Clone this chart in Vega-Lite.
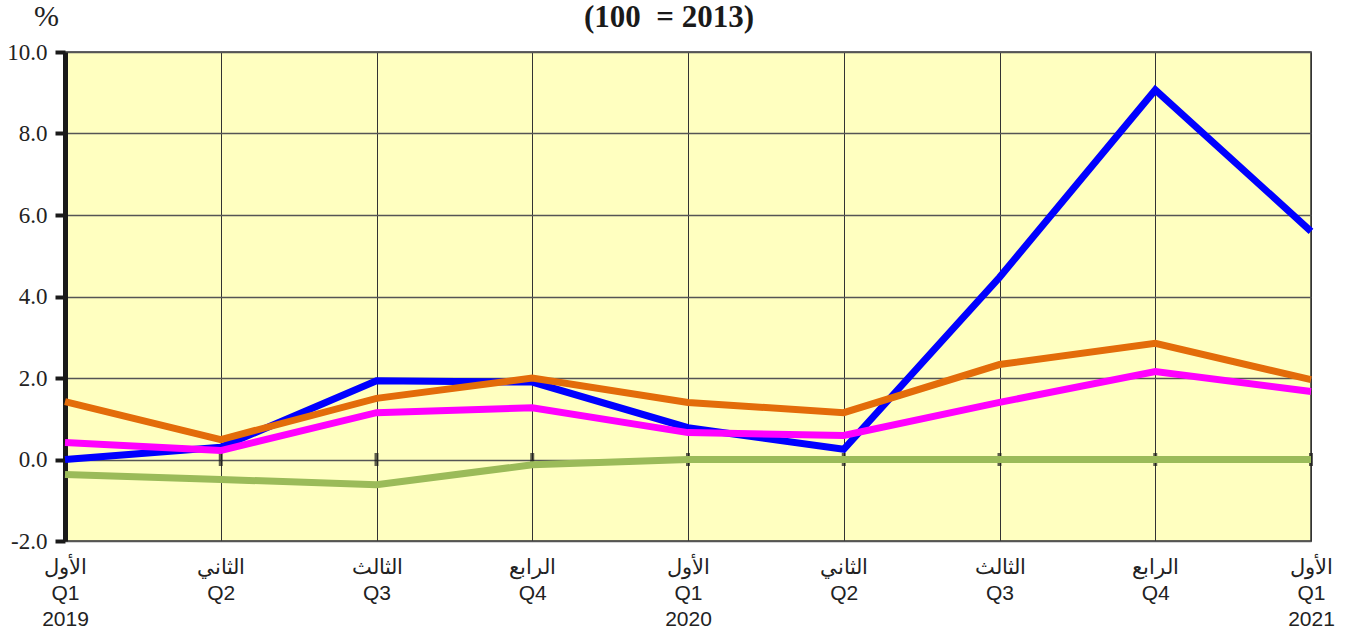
{
  "$schema": "https://vega.github.io/schema/vega-lite/v6.json",
  "width": 1246,
  "height": 489,
  "autosize": {"type": "none"},
  "padding": {"left": 65, "top": 52, "right": 44, "bottom": 100},
  "background": "white",
  "title": {
    "text": "(100\u00a0\u00a0= 2013)",
    "font": "Liberation Serif",
    "fontSize": 31,
    "fontWeight": "bold",
    "color": "#1a1a1a",
    "anchor": "middle",
    "baseline": "alphabetic",
    "offset": -57,
    "dx": -19
  },
  "datasets": {
    "series": [
      {"period": "2019 Q1", "series": "s1", "value": 0.0},
      {"period": "2019 Q2", "series": "s1", "value": 0.3},
      {"period": "2019 Q3", "series": "s1", "value": 1.93},
      {"period": "2019 Q4", "series": "s1", "value": 1.9},
      {"period": "2020 Q1", "series": "s1", "value": 0.78},
      {"period": "2020 Q2", "series": "s1", "value": 0.25},
      {"period": "2020 Q3", "series": "s1", "value": 4.47},
      {"period": "2020 Q4", "series": "s1", "value": 9.07},
      {"period": "2021 Q1", "series": "s1", "value": 5.6},
      {"period": "2019 Q1", "series": "s2", "value": 1.42},
      {"period": "2019 Q2", "series": "s2", "value": 0.49},
      {"period": "2019 Q3", "series": "s2", "value": 1.5},
      {"period": "2019 Q4", "series": "s2", "value": 2.0},
      {"period": "2020 Q1", "series": "s2", "value": 1.4},
      {"period": "2020 Q2", "series": "s2", "value": 1.15},
      {"period": "2020 Q3", "series": "s2", "value": 2.33},
      {"period": "2020 Q4", "series": "s2", "value": 2.85},
      {"period": "2021 Q1", "series": "s2", "value": 1.96},
      {"period": "2019 Q1", "series": "s3", "value": 0.42},
      {"period": "2019 Q2", "series": "s3", "value": 0.22},
      {"period": "2019 Q3", "series": "s3", "value": 1.15},
      {"period": "2019 Q4", "series": "s3", "value": 1.27},
      {"period": "2020 Q1", "series": "s3", "value": 0.66},
      {"period": "2020 Q2", "series": "s3", "value": 0.59},
      {"period": "2020 Q3", "series": "s3", "value": 1.4},
      {"period": "2020 Q4", "series": "s3", "value": 2.16},
      {"period": "2021 Q1", "series": "s3", "value": 1.67},
      {"period": "2019 Q1", "series": "s4", "value": -0.37},
      {"period": "2019 Q2", "series": "s4", "value": -0.49},
      {"period": "2019 Q3", "series": "s4", "value": -0.62},
      {"period": "2019 Q4", "series": "s4", "value": -0.13},
      {"period": "2020 Q1", "series": "s4", "value": 0.0},
      {"period": "2020 Q2", "series": "s4", "value": 0.0},
      {"period": "2020 Q3", "series": "s4", "value": 0.0},
      {"period": "2020 Q4", "series": "s4", "value": 0.0},
      {"period": "2021 Q1", "series": "s4", "value": 0.0}
    ],
    "quarters": [
      {"period": "2019 Q1"}, {"period": "2019 Q2"}, {"period": "2019 Q3"},
      {"period": "2019 Q4"}, {"period": "2020 Q1"}, {"period": "2020 Q2"},
      {"period": "2020 Q3"}, {"period": "2020 Q4"}, {"period": "2021 Q1"}
    ]
  },
  "encoding": {
    "x": {
      "field": "period",
      "type": "ordinal",
      "sort": null,
      "scale": {"type": "point", "padding": 0},
      "axis": {
        "title": null,
        "domain": false,
        "ticks": false,
        "grid": true,
        "gridColor": "#333333",
        "gridWidth": 1,
        "labelAngle": 0,
        "labelAlign": "center",
        "labelBaseline": "top",
        "labelPadding": 15,
        "labelFont": "Liberation Sans",
        "labelFontSize": 21,
        "labelLineHeight": 26,
        "labelColor": "#222222",
        "labelOverlap": false,
        "labelBound": false,
        "labelFlush": false,
        "labelExpr": "[ (indexof(datum.label,'Q1')>=0 ? 'الأول' : indexof(datum.label,'Q2')>=0 ? 'الثاني' : indexof(datum.label,'Q3')>=0 ? 'الثالث' : 'الرابع'), slice(datum.label,5), (indexof(datum.label,'Q1')>=0 ? slice(datum.label,0,4) : '') ]"
      }
    }
  },
  "layer": [
    {
      "mark": {"type": "rule", "color": "#1a1a1a", "strokeWidth": 4},
      "encoding": {"x": null, "y": {"datum": 0, "type": "quantitative"}}
    },
    {
      "data": {"name": "quarters"},
      "mark": {"type": "tick", "orient": "vertical", "color": "#1a1a1a", "size": 13, "thickness": 4},
      "encoding": {"y": {"datum": 0, "type": "quantitative"}}
    },
    {
      "data": {"name": "series"},
      "mark": {"type": "line", "strokeWidth": 7, "strokeJoin": "miter", "strokeCap": "butt"},
      "encoding": {
        "y": {
          "field": "value",
          "type": "quantitative",
          "scale": {"domain": [-2, 10], "nice": false, "zero": false},
          "axis": {
            "title": "%",
            "titleAngle": 0,
            "titleX": -19,
            "titleY": -27,
            "titleAlign": "center",
            "titleBaseline": "alphabetic",
            "titleFont": "Liberation Serif",
            "titleFontSize": 30,
            "titleFontWeight": "normal",
            "titleColor": "#222222",
            "values": [-2, 0, 2, 4, 6, 8, 10],
            "format": ".1f",
            "labelExpr": "replace(datum.label, '\u2212', '-')",
            "labelFont": "Liberation Serif",
            "labelFontSize": 23,
            "labelColor": "#222222",
            "labelPadding": 8,
            "domainColor": "#1a1a1a",
            "domainWidth": 5,
            "tickColor": "#1a1a1a",
            "tickWidth": 4,
            "tickSize": 10,
            "grid": true,
            "gridColor": "#555555",
            "gridWidth": 1.3
          }
        },
        "color": {
          "field": "series",
          "type": "nominal",
          "scale": {"domain": ["s1", "s2", "s3", "s4"], "range": ["#0000FF", "#E36C0A", "#FF00FF", "#9BBB59"]},
          "legend": null
        }
      }
    }
  ],
  "config": {
    "view": {"fill": "#FFFFC0", "stroke": "#333333", "strokeWidth": 1.5}
  }
}
